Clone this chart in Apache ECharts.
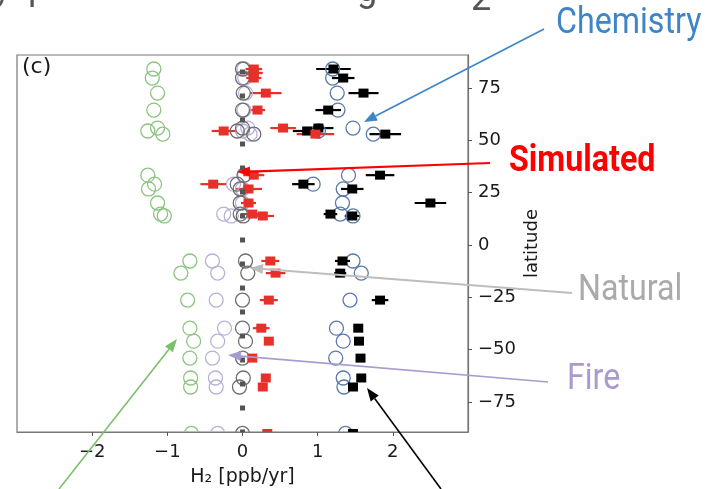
<!DOCTYPE html>
<html>
<head>
<meta charset="utf-8">
<script src="https://cdn.jsdelivr.net/npm/echarts@6/dist/echarts.min.js"></script>
<style>
  html, body { margin: 0; padding: 0; background: #fff; }
  #chart { width: 706px; height: 489px; }
</style>
</head>
<body>
<div id="chart"></div>
<script>
// one latitude per station row
const latitudes = [84.1, 82.2, 79.8, 72.6, 64.5, 55.9, 54.5, 53.0, 33.4, 29.1, 26.8, 20.1, 14.8, 13.9,
  -7.6, -13.4, -26.3, -39.7, -45.9, -54.0, -63.5, -67.8, -90.0];

// H2 trend per station [ppb/yr]
const oceanVals = [-1.18, null, -1.20, -1.13, -1.18, -1.13, -1.26, -1.06, -1.26, -1.17, -1.25, -1.13, -1.09, -1.04,
  -0.70, -0.82, -0.73, -0.70, -0.65, -0.70, -0.69, -0.69, -0.68];
const fireVals = [0.02, null, 0.03, 0.04, 0.02, 0.07, 0.0, 0.10, 0.03, -0.12, 0.0, 0.0, -0.25, -0.15,
  -0.40, -0.33, -0.35, -0.24, -0.33, -0.40, -0.36, -0.35, -0.33];
const naturalVals = [0.0, null, 0.0, 0.01, 0.0, 0.0, -0.07, 0.15, 0.02, -0.07, -0.03, -0.03, -0.03, 0.01,
  0.04, 0.07, 0.0, 0.0, 0.04, 0.0, 0.01, -0.04, 0.0];
const chemistryVals = [1.20, null, 1.20, 1.26, 1.27, 1.47, 1.01, 1.74, 1.41, 0.94, 1.34, 1.33, 1.30, 1.47,
  1.47, 1.58, 1.43, 1.25, 1.34, 1.24, 1.34, 1.35, 1.37];
const simVals = [0.15, 0.15, 0.15, 0.31, 0.20, 0.54, -0.25, 0.97, 0.15, -0.39, 0.08, 0.08, 0.13, 0.27,
  0.37, 0.44, 0.35, 0.25, 0.35, 0.13, 0.31, 0.27, 0.33];
const simErr = [0.11, 0.12, 0.10, 0.21, 0.10, 0.17, 0.16, 0.25, 0.14, 0.17, 0.18, 0.10, 0.15, 0.15,
  0.12, 0.13, 0.12, 0.11, 0.06, 0.06, 0.05, 0.05, 0.05];
const obsVals = [1.21, null, 1.34, 1.61, 1.14, 1.01, 0.86, 1.90, 1.83, 0.81, 1.46, 2.50, 1.17, 1.46,
  1.33, 1.30, 1.83, 1.54, 1.55, 1.57, 1.58, 1.47, 1.47];
const obsErr = [0.23, null, 0.15, 0.20, 0.17, 0.20, 0.19, 0.21, 0.19, 0.15, 0.15, 0.21, 0.09, 0.10,
  0.10, 0.08, 0.11, 0.04, 0.04, 0.04, 0.04, 0.05, 0.05];

const xTicks = [-2, -1, 0, 1, 2];
const yTicks = [-75, -50, -25, 0, 25, 50, 75];
const zeroLine = [[0, -89.3], [0, 90.8]];

function pairs(vals) {
  const out = [];
  vals.forEach((v, i) => { if (v !== null) out.push([v, latitudes[i]]); });
  return out;
}
function withErr(vals, errs) {
  const out = [];
  vals.forEach((v, i) => { if (v !== null) out.push([v, latitudes[i], errs[i]]); });
  return out;
}
const minus = v => (v < 0 ? '\u2212' + Math.abs(v) : String(v));

function circles(name, vals, color) {
  return {
    name: name, type: 'scatter', data: pairs(vals), clip: false,
    symbol: 'circle', symbolSize: 14,
    itemStyle: { color: 'rgba(255,255,255,0)', borderColor: color, borderWidth: 1.3, opacity: 1 },
  };
}
function errBars(vals, errs, color) {
  return {
    type: 'custom', data: withErr(vals, errs), clip: false,
    encode: { x: 0, y: 1 },
    renderItem: function(params, api) {
      const y = api.value(1), e = api.value(2), x = api.value(0);
      const a = api.coord([x - e, y]);
      const b = api.coord([x + e, y]);
      return { type: 'line', shape: { x1: a[0], y1: a[1], x2: b[0], y2: b[1] },
        style: { stroke: color, lineWidth: 2.2 } };
    },
  };
}
function squares(vals, color) {
  return {
    type: 'scatter', data: pairs(vals), clip: false,
    symbol: 'rect', symbolSize: [10, 9], itemStyle: { color: color, opacity: 1 },
  };
}

// arrow from (x1,y1) to tip (x2,y2)
function arrow(x1, y1, x2, y2, color, width) {
  const ang = Math.atan2(y2 - y1, x2 - x1);
  const L = 13, W = 5;
  const bx = x2 - L * Math.cos(ang), by = y2 - L * Math.sin(ang);
  const nx = -Math.sin(ang) * W, ny = Math.cos(ang) * W;
  return [
    { type: 'line', z: 20, shape: { x1: x1, y1: y1, x2: bx, y2: by }, style: { stroke: color, lineWidth: width } },
    { type: 'polygon', z: 20, shape: { points: [[x2, y2], [bx + nx, by + ny], [bx - nx, by - ny]] }, style: { fill: color } },
  ];
}
function label(text, x, y, color, bold) {
  return {
    type: 'text', x: x, y: y, scaleX: 0.87, z: 20,
    style: { text: text, fill: color, font: (bold ? 'bold ' : '') + '37px Roboto',
      textVerticalAlign: 'middle', verticalAlign: 'middle' },
  };
}
function frag(text, x, y, size) {
  return {
    type: 'text', x: x, y: y, z: 20,
    style: { text: text, fill: '#555', font: size + 'px Roboto', textVerticalAlign: 'middle', verticalAlign: 'middle' },
  };
}

const chart = echarts.init(document.getElementById('chart'));
const axisFont = { fontFamily: 'DejaVu Sans', fontSize: 18, color: '#1a1a1a' };

chart.setOption({
  animation: false,
  grid: { left: 17, top: 55, width: 451, height: 377, show: true, borderColor: '#777', borderWidth: 1.2,
    outerBoundsMode: 'none', containLabel: false },
  xAxis: {
    type: 'value', min: -3, max: 3, z: 10,
    axisLine: { onZero: false, lineStyle: { color: '#777', width: 1.2 } },
    axisTick: { customValues: xTicks, length: 4, lineStyle: { color: '#555' } },
    axisLabel: Object.assign({ customValues: xTicks, margin: 11, formatter: minus }, axisFont),
    splitLine: { show: false },
    name: 'H\u2082 [ppb/yr]', nameLocation: 'middle', nameGap: 36, nameMoveOverlap: false,
    nameTextStyle: Object.assign({}, axisFont, { fontSize: 19 }),
  },
  yAxis: {
    type: 'value', position: 'right', min: -89.3, max: 90.8, z: 10,
    axisLine: { show: true, onZero: false, lineStyle: { color: '#777', width: 1.2 } },
    axisTick: { show: true, customValues: yTicks, length: 4, lineStyle: { color: '#555' } },
    axisLabel: Object.assign({ customValues: yTicks, margin: 10, formatter: minus }, axisFont),
    splitLine: { show: false },
    name: 'latitude', nameLocation: 'middle', nameRotate: 90, nameGap: 55, nameMoveOverlap: false,
    nameTextStyle: axisFont,
  },
  series: [
    circles('Ocean', oceanVals, '#8cc47f'),
    circles('Fire', fireVals, '#b9b0d9'),
    circles('Natural', naturalVals, '#6e6e6e'),
    circles('Chemistry', chemistryVals, '#5b79aa'),
    {
      type: 'line', data: zeroLine, showSymbol: false, silent: true,
      lineStyle: { color: '#555', width: 5, type: [5, 19], dashOffset: 2.5, cap: 'butt', opacity: 1 },
    },
    errBars(obsVals, obsErr, '#000'),
    squares(obsVals, '#000'),
    errBars(simVals, simErr, '#e8302a'),
    squares(simVals, '#e8302a'),
  ],
  graphic: [
    // cover marker halves below the bottom axis
    { type: 'rect', z: 3, shape: { x: 12, y: 432.6, width: 460, height: 9 }, style: { fill: '#fff' } },
    { type: 'text', x: 22, y: 67, z: 20,
      style: { text: '(c)', fill: '#1a1a1a', font: '22px "DejaVu Sans"', textVerticalAlign: 'middle', verticalAlign: 'middle' } },
    frag('y', -6, -10, 36), frag('p', 28, -10, 36), frag('g', 357, -8, 36), frag('2', 471, 1, 36),
    label('Chemistry', 556, 24, '#3d85c6', false),
    label('Simulated', 509, 162, '#ff0000', true),
    label('Natural', 578, 291, '#aaaaaa', false),
    label('Fire', 567, 380, '#a99bd0', false),
  ].concat(
    arrow(544, 29, 364, 122, '#3d85c6', 1.6),
    arrow(490, 163, 237, 172, '#ff0000', 2.2),
    arrow(572, 293, 250, 268, '#bdbdbd', 2),
    arrow(548, 382, 228, 355, '#a99bd0', 1.6),
    arrow(59, 489, 177, 339, '#7cbf6b', 1.6),
    arrow(441, 489, 367, 388, '#000', 1.6)
  ),
});
</script>
</body>
</html>
